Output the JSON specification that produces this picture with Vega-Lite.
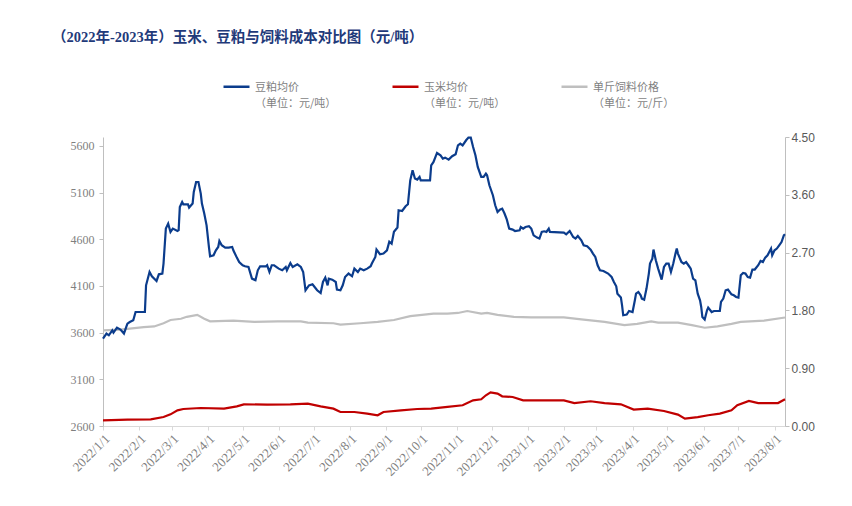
{
  "$schema": "https://vega.github.io/schema/vega-lite/v6.json",
  "width": 682,
  "height": 289,
  "autosize": {"type": "none"},
  "padding": {"left": 103, "top": 137, "right": 67, "bottom": 80},
  "background": "white",
  "title": {
    "text": "（2022年-2023年）玉米、豆粕与饲料成本对比图（元/吨）",
    "anchor": "start",
    "frame": "group",
    "dx": -51,
    "dy": -7,
    "font": "Liberation Serif, Noto Sans CJK SC",
    "fontSize": 14.5,
    "fontWeight": "bold",
    "color": "#1F3A7A",
    "offset": 20
  },
  "config": {"view": {"stroke": null}},
  "datasets": {
    "left": [
      {"date":"2022/01/01","series":"豆粕均价","value":3536},
      {"date":"2022/01/04","series":"豆粕均价","value":3590},
      {"date":"2022/01/06","series":"豆粕均价","value":3572},
      {"date":"2022/01/09","series":"豆粕均价","value":3625},
      {"date":"2022/01/10","series":"豆粕均价","value":3600},
      {"date":"2022/01/13","series":"豆粕均价","value":3654},
      {"date":"2022/01/16","series":"豆粕均价","value":3633},
      {"date":"2022/01/19","series":"豆粕均价","value":3590},
      {"date":"2022/01/21","series":"豆粕均价","value":3661},
      {"date":"2022/01/22","series":"豆粕均价","value":3697},
      {"date":"2022/01/24","series":"豆粕均价","value":3714},
      {"date":"2022/01/27","series":"豆粕均价","value":3732},
      {"date":"2022/01/29","series":"豆粕均价","value":3821},
      {"date":"2022/02/06","series":"豆粕均价","value":3821},
      {"date":"2022/02/07","series":"豆粕均价","value":4107},
      {"date":"2022/02/10","series":"豆粕均价","value":4250},
      {"date":"2022/02/12","series":"豆粕均价","value":4204},
      {"date":"2022/02/16","series":"豆粕均价","value":4154},
      {"date":"2022/02/18","series":"豆粕均价","value":4225},
      {"date":"2022/02/21","series":"豆粕均价","value":4233},
      {"date":"2022/02/22","series":"豆粕均价","value":4340},
      {"date":"2022/02/24","series":"豆粕均价","value":4715},
      {"date":"2022/02/26","series":"豆粕均价","value":4768},
      {"date":"2022/02/28","series":"豆粕均价","value":4679},
      {"date":"2022/03/02","series":"豆粕均价","value":4715},
      {"date":"2022/03/06","series":"豆粕均价","value":4689},
      {"date":"2022/03/07","series":"豆粕均价","value":4697},
      {"date":"2022/03/08","series":"豆粕均价","value":4946},
      {"date":"2022/03/10","series":"豆粕均价","value":5000},
      {"date":"2022/03/11","series":"豆粕均价","value":4975},
      {"date":"2022/03/15","series":"豆粕均价","value":4975},
      {"date":"2022/03/16","series":"豆粕均价","value":4940},
      {"date":"2022/03/19","series":"豆粕均价","value":4983},
      {"date":"2022/03/20","series":"豆粕均价","value":5107},
      {"date":"2022/03/22","series":"豆粕均价","value":5214},
      {"date":"2022/03/24","series":"豆粕均价","value":5214},
      {"date":"2022/03/26","series":"豆粕均价","value":5090},
      {"date":"2022/03/27","series":"豆粕均价","value":4983},
      {"date":"2022/03/29","series":"豆粕均价","value":4876},
      {"date":"2022/03/31","series":"豆粕均价","value":4750},
      {"date":"2022/04/02","series":"豆粕均价","value":4518},
      {"date":"2022/04/03","series":"豆粕均价","value":4418},
      {"date":"2022/04/06","series":"豆粕均价","value":4429},
      {"date":"2022/04/08","series":"豆粕均价","value":4482},
      {"date":"2022/04/10","series":"豆粕均价","value":4518},
      {"date":"2022/04/11","series":"豆粕均价","value":4582},
      {"date":"2022/04/13","series":"豆粕均价","value":4536},
      {"date":"2022/04/16","series":"豆粕均价","value":4511},
      {"date":"2022/04/19","series":"豆粕均价","value":4511},
      {"date":"2022/04/22","series":"豆粕均价","value":4518},
      {"date":"2022/04/23","series":"豆粕均价","value":4482},
      {"date":"2022/04/26","series":"豆粕均价","value":4404},
      {"date":"2022/04/28","series":"豆粕均价","value":4357},
      {"date":"2022/05/01","series":"豆粕均价","value":4322},
      {"date":"2022/05/03","series":"豆粕均价","value":4311},
      {"date":"2022/05/06","series":"豆粕均价","value":4304},
      {"date":"2022/05/09","series":"豆粕均价","value":4179},
      {"date":"2022/05/12","series":"豆粕均价","value":4161},
      {"date":"2022/05/14","series":"豆粕均价","value":4268},
      {"date":"2022/05/16","series":"豆粕均价","value":4311},
      {"date":"2022/05/21","series":"豆粕均价","value":4311},
      {"date":"2022/05/22","series":"豆粕均价","value":4322},
      {"date":"2022/05/24","series":"豆粕均价","value":4250},
      {"date":"2022/05/26","series":"豆粕均价","value":4322},
      {"date":"2022/05/28","series":"豆粕均价","value":4322},
      {"date":"2022/06/01","series":"豆粕均价","value":4286},
      {"date":"2022/06/04","series":"豆粕均价","value":4268},
      {"date":"2022/06/07","series":"豆粕均价","value":4304},
      {"date":"2022/06/08","series":"豆粕均价","value":4268},
      {"date":"2022/06/11","series":"豆粕均价","value":4346},
      {"date":"2022/06/13","series":"豆粕均价","value":4304},
      {"date":"2022/06/17","series":"豆粕均价","value":4332},
      {"date":"2022/06/20","series":"豆粕均价","value":4304},
      {"date":"2022/06/22","series":"豆粕均价","value":4250},
      {"date":"2022/06/24","series":"豆粕均价","value":4054},
      {"date":"2022/06/27","series":"豆粕均价","value":4107},
      {"date":"2022/06/30","series":"豆粕均价","value":4118},
      {"date":"2022/07/04","series":"豆粕均价","value":4054},
      {"date":"2022/07/07","series":"豆粕均价","value":4025},
      {"date":"2022/07/09","series":"豆粕均价","value":4143},
      {"date":"2022/07/11","series":"豆粕均价","value":4190},
      {"date":"2022/07/13","series":"豆粕均价","value":4107},
      {"date":"2022/07/14","series":"豆粕均价","value":4179},
      {"date":"2022/07/17","series":"豆粕均价","value":4168},
      {"date":"2022/07/20","series":"豆粕均价","value":4143},
      {"date":"2022/07/21","series":"豆粕均价","value":4061},
      {"date":"2022/07/24","series":"豆粕均价","value":4054},
      {"date":"2022/07/26","series":"豆粕均价","value":4107},
      {"date":"2022/07/28","series":"豆粕均价","value":4196},
      {"date":"2022/07/31","series":"豆粕均价","value":4233},
      {"date":"2022/08/03","series":"豆粕均价","value":4204},
      {"date":"2022/08/05","series":"豆粕均价","value":4286},
      {"date":"2022/08/08","series":"豆粕均价","value":4250},
      {"date":"2022/08/10","series":"豆粕均价","value":4286},
      {"date":"2022/08/13","series":"豆粕均价","value":4268},
      {"date":"2022/08/16","series":"豆粕均价","value":4286},
      {"date":"2022/08/19","series":"豆粕均价","value":4311},
      {"date":"2022/08/20","series":"豆粕均价","value":4340},
      {"date":"2022/08/23","series":"豆粕均价","value":4411},
      {"date":"2022/08/24","series":"豆粕均价","value":4490},
      {"date":"2022/08/27","series":"豆粕均价","value":4440},
      {"date":"2022/08/30","series":"豆粕均价","value":4447},
      {"date":"2022/09/02","series":"豆粕均价","value":4482},
      {"date":"2022/09/04","series":"豆粕均价","value":4575},
      {"date":"2022/09/06","series":"豆粕均价","value":4554},
      {"date":"2022/09/08","series":"豆粕均价","value":4680},
      {"date":"2022/09/11","series":"豆粕均价","value":4726},
      {"date":"2022/09/12","series":"豆粕均价","value":4911},
      {"date":"2022/09/15","series":"豆粕均价","value":4903},
      {"date":"2022/09/18","series":"豆粕均价","value":4954},
      {"date":"2022/09/20","series":"豆粕均价","value":4975},
      {"date":"2022/09/22","series":"豆粕均价","value":5232},
      {"date":"2022/09/24","series":"豆粕均价","value":5340},
      {"date":"2022/09/26","series":"豆粕均价","value":5251},
      {"date":"2022/09/28","series":"豆粕均价","value":5240},
      {"date":"2022/09/30","series":"豆粕均价","value":5268},
      {"date":"2022/10/01","series":"豆粕均价","value":5232},
      {"date":"2022/10/09","series":"豆粕均价","value":5232},
      {"date":"2022/10/10","series":"豆粕均价","value":5393},
      {"date":"2022/10/12","series":"豆粕均价","value":5429},
      {"date":"2022/10/15","series":"豆粕均价","value":5525},
      {"date":"2022/10/18","series":"豆粕均价","value":5500},
      {"date":"2022/10/20","series":"豆粕均价","value":5465},
      {"date":"2022/10/22","series":"豆粕均价","value":5475},
      {"date":"2022/10/25","series":"豆粕均价","value":5454},
      {"date":"2022/10/28","series":"豆粕均价","value":5490},
      {"date":"2022/10/31","series":"豆粕均价","value":5511},
      {"date":"2022/11/02","series":"豆粕均价","value":5607},
      {"date":"2022/11/04","series":"豆粕均价","value":5626},
      {"date":"2022/11/06","series":"豆粕均价","value":5607},
      {"date":"2022/11/09","series":"豆粕均价","value":5661},
      {"date":"2022/11/11","series":"豆粕均价","value":5690},
      {"date":"2022/11/13","series":"豆粕均价","value":5690},
      {"date":"2022/11/15","series":"豆粕均价","value":5589},
      {"date":"2022/11/17","series":"豆粕均价","value":5500},
      {"date":"2022/11/19","series":"豆粕均价","value":5375},
      {"date":"2022/11/22","series":"豆粕均价","value":5268},
      {"date":"2022/11/24","series":"豆粕均价","value":5268},
      {"date":"2022/11/26","series":"豆粕均价","value":5304},
      {"date":"2022/11/27","series":"豆粕均价","value":5286},
      {"date":"2022/11/29","series":"豆粕均价","value":5179},
      {"date":"2022/12/02","series":"豆粕均价","value":5072},
      {"date":"2022/12/04","series":"豆粕均价","value":4965},
      {"date":"2022/12/06","series":"豆粕均价","value":4893},
      {"date":"2022/12/08","series":"豆粕均价","value":4918},
      {"date":"2022/12/10","series":"豆粕均价","value":4929},
      {"date":"2022/12/12","series":"豆粕均价","value":4876},
      {"date":"2022/12/14","series":"豆粕均价","value":4811},
      {"date":"2022/12/16","series":"豆粕均价","value":4715},
      {"date":"2022/12/19","series":"豆粕均价","value":4704},
      {"date":"2022/12/21","series":"豆粕均价","value":4689},
      {"date":"2022/12/25","series":"豆粕均价","value":4697},
      {"date":"2022/12/26","series":"豆粕均价","value":4732},
      {"date":"2022/12/28","series":"豆粕均价","value":4715},
      {"date":"2022/12/30","series":"豆粕均价","value":4732},
      {"date":"2023/01/02","series":"豆粕均价","value":4740},
      {"date":"2023/01/04","series":"豆粕均价","value":4715},
      {"date":"2023/01/06","series":"豆粕均价","value":4643},
      {"date":"2023/01/09","series":"豆粕均价","value":4618},
      {"date":"2023/01/11","series":"豆粕均价","value":4608},
      {"date":"2023/01/13","series":"豆粕均价","value":4679},
      {"date":"2023/01/15","series":"豆粕均价","value":4686},
      {"date":"2023/01/17","series":"豆粕均价","value":4679},
      {"date":"2023/01/19","series":"豆粕均价","value":4715},
      {"date":"2023/01/20","series":"豆粕均价","value":4679},
      {"date":"2023/02/01","series":"豆粕均价","value":4672},
      {"date":"2023/02/03","series":"豆粕均价","value":4654},
      {"date":"2023/02/06","series":"豆粕均价","value":4689},
      {"date":"2023/02/09","series":"豆粕均价","value":4625},
      {"date":"2023/02/11","series":"豆粕均价","value":4608},
      {"date":"2023/02/13","series":"豆粕均价","value":4636},
      {"date":"2023/02/16","series":"豆粕均价","value":4590},
      {"date":"2023/02/18","series":"豆粕均价","value":4536},
      {"date":"2023/02/21","series":"豆粕均价","value":4525},
      {"date":"2023/02/24","series":"豆粕均价","value":4490},
      {"date":"2023/02/26","series":"豆粕均价","value":4447},
      {"date":"2023/02/28","series":"豆粕均价","value":4411},
      {"date":"2023/03/02","series":"豆粕均价","value":4322},
      {"date":"2023/03/04","series":"豆粕均价","value":4268},
      {"date":"2023/03/07","series":"豆粕均价","value":4261},
      {"date":"2023/03/11","series":"豆粕均价","value":4233},
      {"date":"2023/03/14","series":"豆粕均价","value":4196},
      {"date":"2023/03/16","series":"豆粕均价","value":4143},
      {"date":"2023/03/18","series":"豆粕均价","value":4097},
      {"date":"2023/03/19","series":"豆粕均价","value":4018},
      {"date":"2023/03/22","series":"豆粕均价","value":3976},
      {"date":"2023/03/23","series":"豆粕均价","value":3893},
      {"date":"2023/03/24","series":"豆粕均价","value":3786},
      {"date":"2023/03/27","series":"豆粕均价","value":3794},
      {"date":"2023/03/29","series":"豆粕均价","value":3832},
      {"date":"2023/04/01","series":"豆粕均价","value":3821},
      {"date":"2023/04/03","series":"豆粕均价","value":3947},
      {"date":"2023/04/04","series":"豆粕均价","value":4018},
      {"date":"2023/04/06","series":"豆粕均价","value":4036},
      {"date":"2023/04/08","series":"豆粕均价","value":4000},
      {"date":"2023/04/09","series":"豆粕均价","value":3965},
      {"date":"2023/04/11","series":"豆粕均价","value":3954},
      {"date":"2023/04/13","series":"豆粕均价","value":4072},
      {"date":"2023/04/15","series":"豆粕均价","value":4233},
      {"date":"2023/04/16","series":"豆粕均价","value":4340},
      {"date":"2023/04/18","series":"豆粕均价","value":4393},
      {"date":"2023/04/19","series":"豆粕均价","value":4490},
      {"date":"2023/04/21","series":"豆粕均价","value":4375},
      {"date":"2023/04/23","series":"豆粕均价","value":4286},
      {"date":"2023/04/26","series":"豆粕均价","value":4168},
      {"date":"2023/04/28","series":"豆粕均价","value":4304},
      {"date":"2023/04/30","series":"豆粕均价","value":4340},
      {"date":"2023/05/02","series":"豆粕均价","value":4340},
      {"date":"2023/05/04","series":"豆粕均价","value":4250},
      {"date":"2023/05/06","series":"豆粕均价","value":4340},
      {"date":"2023/05/08","series":"豆粕均价","value":4454},
      {"date":"2023/05/09","series":"豆粕均价","value":4501},
      {"date":"2023/05/10","series":"豆粕均价","value":4447},
      {"date":"2023/05/13","series":"豆粕均价","value":4357},
      {"date":"2023/05/15","series":"豆粕均价","value":4340},
      {"date":"2023/05/17","series":"豆粕均价","value":4357},
      {"date":"2023/05/19","series":"豆粕均价","value":4322},
      {"date":"2023/05/21","series":"豆粕均价","value":4286},
      {"date":"2023/05/23","series":"豆粕均价","value":4179},
      {"date":"2023/05/25","series":"豆粕均价","value":4161},
      {"date":"2023/05/27","series":"豆粕均价","value":4018},
      {"date":"2023/05/29","series":"豆粕均价","value":3947},
      {"date":"2023/05/30","series":"豆粕均价","value":3875},
      {"date":"2023/05/31","series":"豆粕均价","value":3768},
      {"date":"2023/06/02","series":"豆粕均价","value":3740},
      {"date":"2023/06/04","series":"豆粕均价","value":3840},
      {"date":"2023/06/05","series":"豆粕均价","value":3869},
      {"date":"2023/06/08","series":"豆粕均价","value":3821},
      {"date":"2023/06/10","series":"豆粕均价","value":3832},
      {"date":"2023/06/15","series":"豆粕均价","value":3832},
      {"date":"2023/06/16","series":"豆粕均价","value":3929},
      {"date":"2023/06/18","series":"豆粕均价","value":3965},
      {"date":"2023/06/20","series":"豆粕均价","value":4054},
      {"date":"2023/06/22","series":"豆粕均价","value":4061},
      {"date":"2023/06/25","series":"豆粕均价","value":4011},
      {"date":"2023/06/27","series":"豆粕均价","value":4000},
      {"date":"2023/06/29","series":"豆粕均价","value":3982},
      {"date":"2023/07/01","series":"豆粕均价","value":3976},
      {"date":"2023/07/03","series":"豆粕均价","value":4215},
      {"date":"2023/07/05","series":"豆粕均价","value":4239},
      {"date":"2023/07/07","series":"豆粕均价","value":4233},
      {"date":"2023/07/09","series":"豆粕均价","value":4196},
      {"date":"2023/07/11","series":"豆粕均价","value":4190},
      {"date":"2023/07/13","series":"豆粕均价","value":4276},
      {"date":"2023/07/15","series":"豆粕均价","value":4276},
      {"date":"2023/07/18","series":"豆粕均价","value":4322},
      {"date":"2023/07/20","series":"豆粕均价","value":4368},
      {"date":"2023/07/22","series":"豆粕均价","value":4357},
      {"date":"2023/07/24","series":"豆粕均价","value":4404},
      {"date":"2023/07/26","series":"豆粕均价","value":4429},
      {"date":"2023/07/29","series":"豆粕均价","value":4501},
      {"date":"2023/07/30","series":"豆粕均价","value":4429},
      {"date":"2023/08/01","series":"豆粕均价","value":4482},
      {"date":"2023/08/03","series":"豆粕均价","value":4501},
      {"date":"2023/08/05","series":"豆粕均价","value":4536},
      {"date":"2023/08/07","series":"豆粕均价","value":4571},
      {"date":"2023/08/09","series":"豆粕均价","value":4643},
      {"date":"2023/08/10","series":"豆粕均价","value":4654},
      {"date":"2022/01/01","series":"玉米均价","value":2661},
      {"date":"2022/01/22","series":"玉米均价","value":2669},
      {"date":"2022/02/11","series":"玉米均价","value":2672},
      {"date":"2022/02/22","series":"玉米均价","value":2696},
      {"date":"2022/02/28","series":"玉米均价","value":2725},
      {"date":"2022/03/06","series":"玉米均价","value":2768},
      {"date":"2022/03/11","series":"玉米均价","value":2782},
      {"date":"2022/03/26","series":"玉米均价","value":2793},
      {"date":"2022/04/15","series":"玉米均价","value":2786},
      {"date":"2022/04/26","series":"玉米均价","value":2811},
      {"date":"2022/05/02","series":"玉米均价","value":2832},
      {"date":"2022/05/22","series":"玉米均价","value":2829},
      {"date":"2022/06/11","series":"玉米均价","value":2832},
      {"date":"2022/06/26","series":"玉米均价","value":2840},
      {"date":"2022/07/07","series":"玉米均价","value":2811},
      {"date":"2022/07/18","series":"玉米均价","value":2786},
      {"date":"2022/07/24","series":"玉米均价","value":2750},
      {"date":"2022/08/05","series":"玉米均价","value":2750},
      {"date":"2022/08/16","series":"玉米均价","value":2733},
      {"date":"2022/08/25","series":"玉米均价","value":2715},
      {"date":"2022/08/30","series":"玉米均价","value":2750},
      {"date":"2022/09/14","series":"玉米均价","value":2768},
      {"date":"2022/09/28","series":"玉米均价","value":2782},
      {"date":"2022/10/10","series":"玉米均价","value":2786},
      {"date":"2022/10/24","series":"玉米均价","value":2804},
      {"date":"2022/11/06","series":"玉米均价","value":2822},
      {"date":"2022/11/15","series":"玉米均价","value":2875},
      {"date":"2022/11/22","series":"玉米均价","value":2886},
      {"date":"2022/11/26","series":"玉米均价","value":2929},
      {"date":"2022/11/30","series":"玉米均价","value":2961},
      {"date":"2022/12/06","series":"玉米均价","value":2947},
      {"date":"2022/12/10","series":"玉米均价","value":2918},
      {"date":"2022/12/19","series":"玉米均价","value":2911},
      {"date":"2022/12/28","series":"玉米均价","value":2875},
      {"date":"2023/01/04","series":"玉米均价","value":2875},
      {"date":"2023/02/01","series":"玉米均价","value":2875},
      {"date":"2023/02/10","series":"玉米均价","value":2846},
      {"date":"2023/02/24","series":"玉米均价","value":2865},
      {"date":"2023/03/08","series":"玉米均价","value":2846},
      {"date":"2023/03/22","series":"玉米均价","value":2832},
      {"date":"2023/04/02","series":"玉米均价","value":2776},
      {"date":"2023/04/14","series":"玉米均价","value":2786},
      {"date":"2023/04/28","series":"玉米均价","value":2761},
      {"date":"2023/05/10","series":"玉米均价","value":2722},
      {"date":"2023/05/16","series":"玉米均价","value":2679},
      {"date":"2023/05/27","series":"玉米均价","value":2696},
      {"date":"2023/06/05","series":"玉米均价","value":2715},
      {"date":"2023/06/15","series":"玉米均价","value":2733},
      {"date":"2023/06/25","series":"玉米均价","value":2768},
      {"date":"2023/06/30","series":"玉米均价","value":2822},
      {"date":"2023/07/10","series":"玉米均价","value":2868},
      {"date":"2023/07/18","series":"玉米均价","value":2846},
      {"date":"2023/08/04","series":"玉米均价","value":2846},
      {"date":"2023/08/10","series":"玉米均价","value":2886}
    ],
    "feed": [
      {"date":"2022/01/01","series":"单斤饲料价格","value":1.49},
      {"date":"2022/01/16","series":"单斤饲料价格","value":1.50},
      {"date":"2022/02/05","series":"单斤饲料价格","value":1.54},
      {"date":"2022/02/14","series":"单斤饲料价格","value":1.55},
      {"date":"2022/02/22","series":"单斤饲料价格","value":1.60},
      {"date":"2022/02/28","series":"单斤饲料价格","value":1.65},
      {"date":"2022/03/09","series":"单斤饲料价格","value":1.67},
      {"date":"2022/03/14","series":"单斤饲料价格","value":1.70},
      {"date":"2022/03/23","series":"单斤饲料价格","value":1.73},
      {"date":"2022/03/29","series":"单斤饲料价格","value":1.67},
      {"date":"2022/04/03","series":"单斤饲料价格","value":1.63},
      {"date":"2022/04/23","series":"单斤饲料价格","value":1.64},
      {"date":"2022/05/11","series":"单斤饲料价格","value":1.62},
      {"date":"2022/05/31","series":"单斤饲料价格","value":1.63},
      {"date":"2022/06/20","series":"单斤饲料价格","value":1.63},
      {"date":"2022/06/26","series":"单斤饲料价格","value":1.61},
      {"date":"2022/07/18","series":"单斤饲料价格","value":1.60},
      {"date":"2022/07/24","series":"单斤饲料价格","value":1.58},
      {"date":"2022/08/10","series":"单斤饲料价格","value":1.60},
      {"date":"2022/08/25","series":"单斤饲料价格","value":1.62},
      {"date":"2022/09/08","series":"单斤饲料价格","value":1.65},
      {"date":"2022/09/22","series":"单斤饲料价格","value":1.71},
      {"date":"2022/10/12","series":"单斤饲料价格","value":1.75},
      {"date":"2022/10/24","series":"单斤饲料价格","value":1.75},
      {"date":"2022/11/02","series":"单斤饲料价格","value":1.76},
      {"date":"2022/11/10","series":"单斤饲料价格","value":1.79},
      {"date":"2022/11/22","series":"单斤饲料价格","value":1.75},
      {"date":"2022/11/27","series":"单斤饲料价格","value":1.76},
      {"date":"2022/12/06","series":"单斤饲料价格","value":1.73},
      {"date":"2022/12/20","series":"单斤饲料价格","value":1.70},
      {"date":"2023/01/04","series":"单斤饲料价格","value":1.69},
      {"date":"2023/02/01","series":"单斤饲料价格","value":1.69},
      {"date":"2023/02/16","series":"单斤饲料价格","value":1.66},
      {"date":"2023/03/08","series":"单斤饲料价格","value":1.62},
      {"date":"2023/03/25","series":"单斤饲料价格","value":1.57},
      {"date":"2023/04/05","series":"单斤饲料价格","value":1.59},
      {"date":"2023/04/17","series":"单斤饲料价格","value":1.63},
      {"date":"2023/04/23","series":"单斤饲料价格","value":1.61},
      {"date":"2023/05/10","series":"单斤饲料价格","value":1.61},
      {"date":"2023/05/22","series":"单斤饲料价格","value":1.57},
      {"date":"2023/06/02","series":"单斤饲料价格","value":1.53},
      {"date":"2023/06/13","series":"单斤饲料价格","value":1.55},
      {"date":"2023/06/25","series":"单斤饲料价格","value":1.59},
      {"date":"2023/07/03","series":"单斤饲料价格","value":1.62},
      {"date":"2023/07/23","series":"单斤饲料价格","value":1.64},
      {"date":"2023/08/10","series":"单斤饲料价格","value":1.69}
    ]
  },
  "encoding": {
    "x": {
      "field": "date", "type": "temporal",
      "scale": {"domain": [{"year": 2022, "month": 1, "date": 1}, {"year": 2023, "month": 8, "date": 10}]},
      "axis": {
        "title": null, "format": "%Y/%-m/%-d", "labelAngle": -45, "tickCount": {"interval": "month", "step": 1},
        "grid": false, "labelFont": "Liberation Serif", "labelFontSize": 13, "labelColor": "#7f7f7f",
        "domainColor": "#d9d9d9", "tickColor": "#d9d9d9", "tickSize": 4, "labelFlush": false,
        "labelOverlap": false, "labelPadding": 2
      }
    },
    "color": {
      "field": "series", "type": "nominal",
      "scale": {"domain": ["豆粕均价", "玉米均价", "单斤饲料价格"], "range": ["#0B3C8C", "#C00000", "#BFBFBF"]},
      "legend": {
        "title": null, "orient": "none", "legendX": 119, "legendY": -65, "direction": "horizontal", "columns": 3,
        "symbolType": "stroke", "symbolSize": 676, "symbolStrokeWidth": 2.5,
        "labelFont": "Noto Sans CJK SC", "labelFontSize": 11, "labelColor": "#7f7f7f",
        "labelBaseline": "alphabetic", "labelOffset": 4, "columnPadding": 50, "padding": 0,
        "labelExpr": "[datum.label, datum.label == '单斤饲料价格' ? '（单位：元/斤）' : '（单位：元/吨）']",
        "encode": {"labels": {"update": {"dy": {"value": 4}, "lineHeight": {"value": 16}}}}
      }
    }
  },
  "layer": [
    {
      "data": {"name": "feed"},
      "mark": {"type": "line", "strokeWidth": 2.2},
      "encoding": {
        "y": {
          "field": "value", "type": "quantitative",
          "scale": {"domain": [0, 4.5], "nice": false, "zero": false},
          "axis": {
            "orient": "right", "title": null, "values": [0, 0.9, 1.8, 2.7, 3.6, 4.5], "format": ".2f",
            "grid": false, "labelFont": "Liberation Sans", "labelFontSize": 12, "labelColor": "#595959",
            "domainColor": "#bfbfbf", "tickColor": "#bfbfbf", "tickSize": 4, "labelPadding": 2
          }
        }
      }
    },
    {
      "data": {"name": "left"},
      "mark": {"type": "line", "strokeWidth": 2.2},
      "encoding": {
        "y": {
          "field": "value", "type": "quantitative",
          "scale": {"domain": [2600, 5696], "nice": false, "zero": false},
          "axis": {
            "orient": "left", "title": null, "values": [2600, 3100, 3600, 4100, 4600, 5100, 5600], "format": "d",
            "grid": false, "labelFont": "Liberation Serif", "labelFontSize": 12, "labelColor": "#7f7f7f",
            "domainColor": "#bfbfbf", "tickColor": "#bfbfbf", "tickSize": 4, "labelPadding": 5
          }
        }
      }
    }
  ],
  "resolve": {"scale": {"y": "independent"}}
}
